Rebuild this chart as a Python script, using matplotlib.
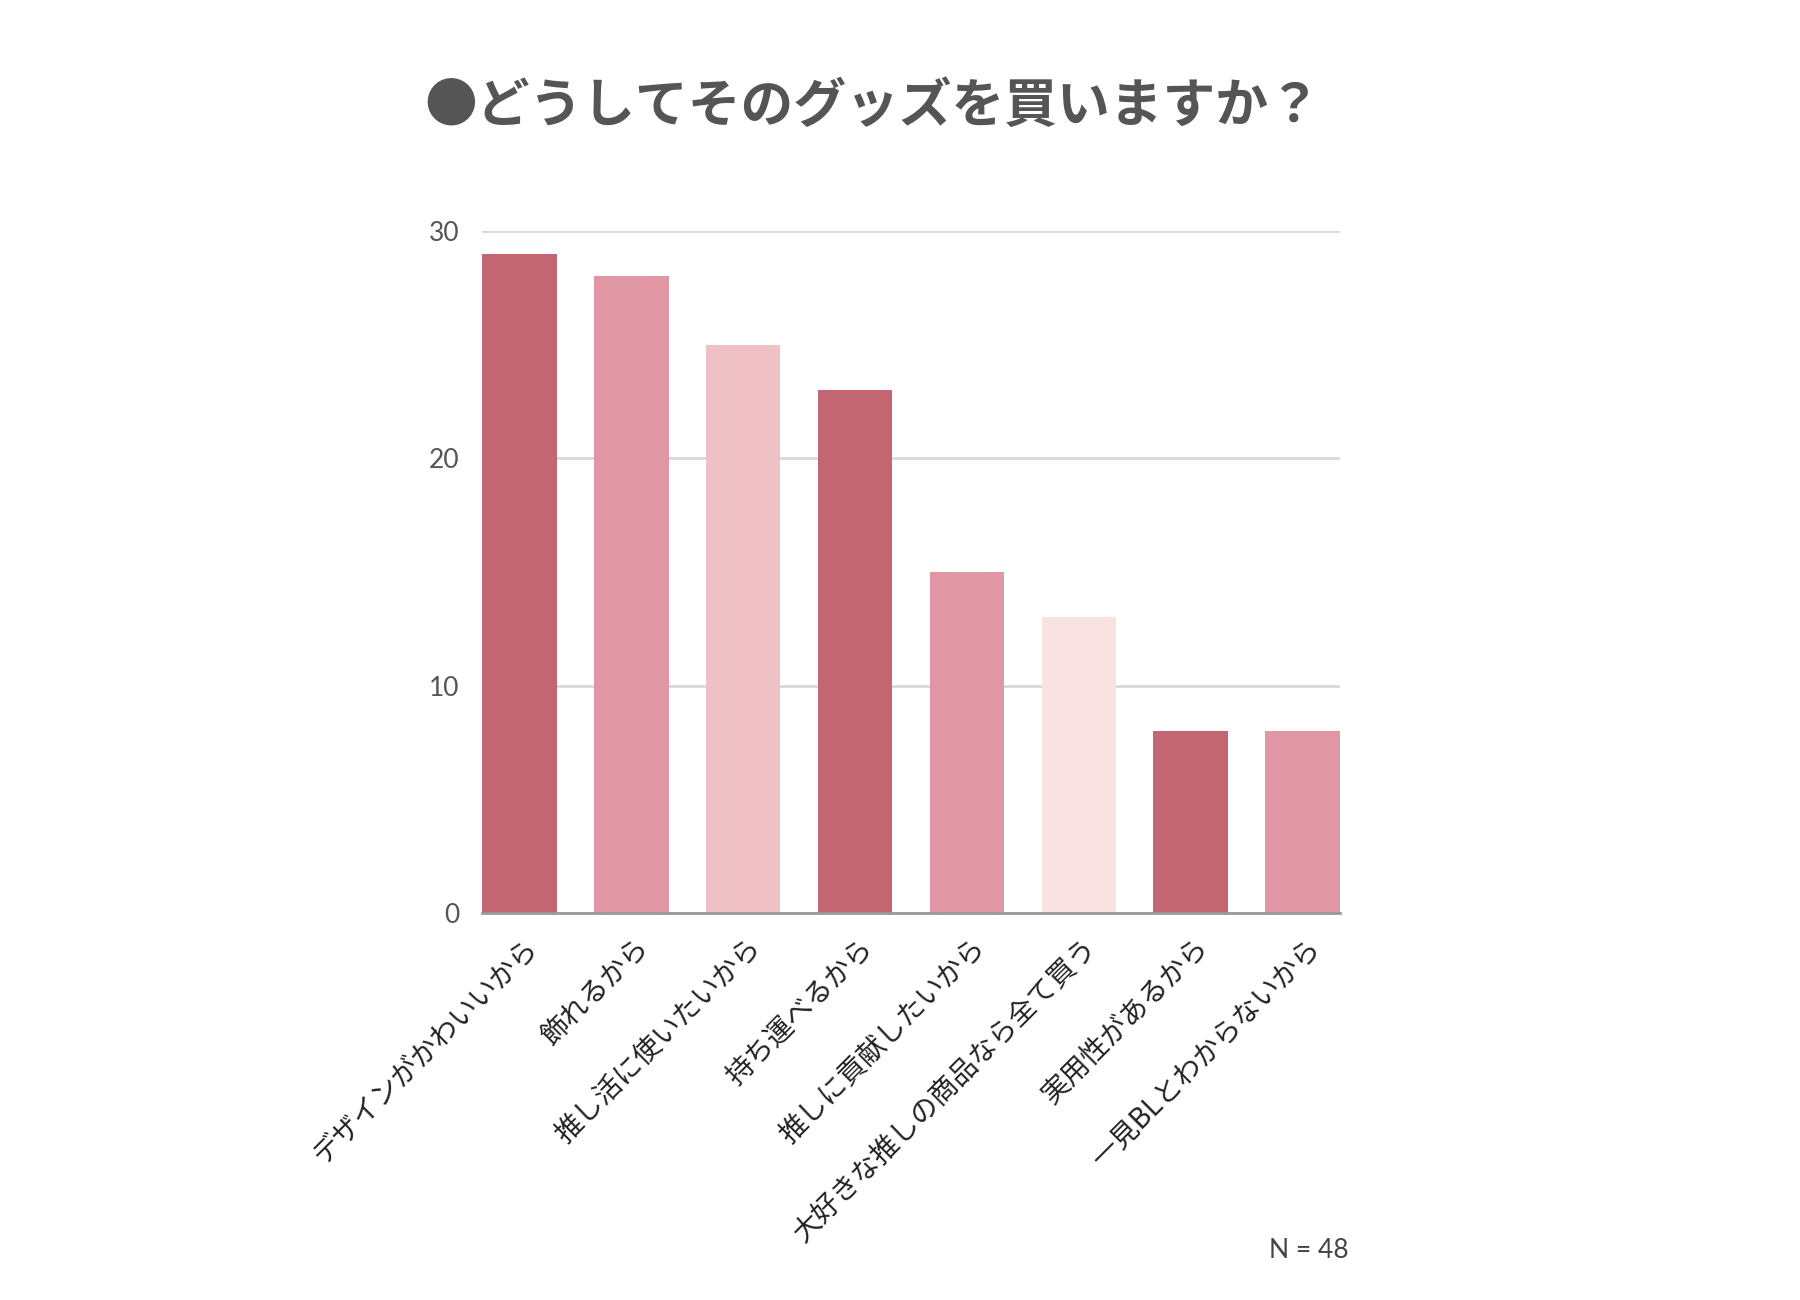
import matplotlib.pyplot as plt
import matplotlib.transforms as mtransforms

plt.rcParams['font.family'] = ['Noto Sans CJK JP', 'DejaVu Sans']

reasons = ['デザインがかわいいから', '飾れるから', '推し活に使いたいから', '持ち運べるから',
           '推しに貢献したいから', '大好きな推しの商品なら全て買う', '実用性があるから',
           '一見BLとわからないから']
counts = [29, 28, 25, 23, 15, 13, 8, 8]
colors = ['#C46672', '#E097A3', '#EFC1C4', '#C46672', '#E097A3', '#F8E2E2', '#C46672', '#E097A3']

fig = plt.figure(figsize=(18, 13), dpi=100)
ax = fig.add_axes([0.2678, 0.2977, 0.4766, 0.5246])

x = range(len(reasons))
ax.bar(x, counts, width=0.667, color=colors, zorder=3)

ax.set_xlim(-0.3335, len(reasons) - 1 + 0.3335)
ax.set_ylim(0, 30)
ax.set_yticks([0, 10, 20, 30])
ax.yaxis.grid(True, color='#D9D9D9', linewidth=2, zorder=0)
ax.tick_params(axis='y', length=0, pad=16, labelsize=19, labelcolor='#555555')
for lab in ax.get_yticklabels():
    lab.set_family(['Lato', 'DejaVu Sans'])

for s in ['top', 'right', 'left']:
    ax.spines[s].set_visible(False)
ax.spines['bottom'].set_color('#999999')
ax.spines['bottom'].set_linewidth(2)
ax.spines['bottom'].set_zorder(4)

ax.set_xticks(list(x))
ax.set_xticklabels(reasons, rotation=45, ha='right', rotation_mode='anchor',
                   fontsize=20, color='#222222')
ax.tick_params(axis='x', length=0, pad=14)
offset = mtransforms.ScaledTranslation(0.03, 0, fig.dpi_scale_trans)
for lab in ax.get_xticklabels():
    lab.set_transform(lab.get_transform() + offset)

fig.text(0.485, 0.918, '●どうしてそのグッズを買いますか？', ha='center', va='center',
         fontsize=38, fontweight='bold', color='#555555')
fig.text(0.749, 0.038, 'N = 48', ha='right', va='center', fontsize=19,
         color='#444444', family=['Lato', 'DejaVu Sans'])

fig.savefig('out.png', dpi=100, facecolor='white')
